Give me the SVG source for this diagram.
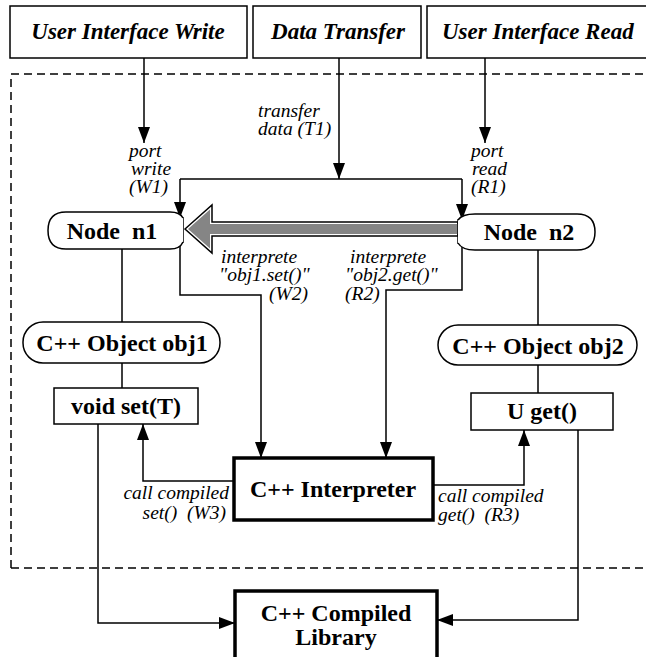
<svg xmlns="http://www.w3.org/2000/svg" width="646" height="657" viewBox="0 0 646 657">
<style>
.box{fill:#fff;stroke:#000;stroke-width:1.5}
.thick{fill:#fff;stroke:#000;stroke-width:3.5}
.ln{fill:none;stroke:#000;stroke-width:1.5}
.dash{fill:none;stroke:#000;stroke-width:1.5;stroke-dasharray:8,5}
.title{font-weight:bold;font-style:italic;font-size:23px}
.nd{font-weight:bold;font-size:24px;text-anchor:middle;white-space:pre}
.lb{font-style:italic;font-size:19.5px;white-space:pre}
</style>
<defs>
<marker id="ah" markerUnits="userSpaceOnUse" markerWidth="16" markerHeight="12" refX="16" refY="6" orient="auto">
<path d="M0,0 L16,6 L0,12 z" fill="#000"/>
</marker>
</defs>
<rect width="646" height="657" fill="#fff"/>
<g font-family="Liberation Serif, Times New Roman, serif">
<path class="dash" d="M11,568 L11,74 L650,74 M11,568 L650,568"/>

<g id="ui-write"><rect class="box" x="10" y="6" width="237" height="52"/><text class="title" x="128" y="39" text-anchor="middle">User Interface Write</text></g>
<g id="data-transfer"><rect class="box" x="253" y="6" width="168" height="52"/><text class="title" x="338" y="39" text-anchor="middle">Data Transfer</text></g>
<g id="ui-read"><rect class="box" x="427" y="6" width="230" height="52"/><text class="title" x="442" y="39">User Interface Read</text></g>

<g id="connectors">
<path class="ln" d="M144,58 L144,143" marker-end="url(#ah)"/>
<path class="ln" d="M339,58 L339,179" marker-end="url(#ah)"/>
<path class="ln" d="M485,58 L485,143" marker-end="url(#ah)"/>
<path class="ln" d="M180,179 L462,179"/>
<path class="ln" d="M180,179 L180,218" marker-end="url(#ah)"/>
<path class="ln" d="M462,179 L462,220" marker-end="url(#ah)"/>
<path class="ln" d="M180,242 L180,295 L261,295 L261,458" marker-end="url(#ah)"/>
<path class="ln" d="M462,243 L462,290 L386,290 L386,458" marker-end="url(#ah)"/>
<path class="ln" d="M122,249 L122,322 M122,363 L122,388"/>
<path class="ln" d="M538,250 L538,325 M538,365 L538,393"/>
<path class="ln" d="M234,481 L143,481 L143,424" marker-end="url(#ah)"/>
<path class="ln" d="M433,485 L524,485 L524,430" marker-end="url(#ah)"/>
<path class="ln" d="M98,424 L98,623 L235,623" marker-end="url(#ah)"/>
<path class="ln" d="M578,430 L578,620 L437,620" marker-end="url(#ah)"/>
<polygon points="185,229 212,205 212,222 458,222 458,236 212,236 212,253" fill="#fff" stroke="#000" stroke-width="1.5"/>
<polygon points="188,229 210,209.5 210,224 458,224 458,234 210,234 210,248.5" fill="#858585"/>
<text class="lb" x="258" y="117">transfer</text>
<text class="lb" x="258" y="135">data (T1)</text>
<text class="lb" x="129" y="157">port</text>
<text class="lb" x="131" y="175">write</text>
<text class="lb" x="129" y="193">(W1)</text>
<text class="lb" x="471" y="157">port</text>
<text class="lb" x="472" y="175">read</text>
<text class="lb" x="471" y="193">(R1)</text>
<text class="lb" x="221" y="263">interprete</text>
<text class="lb" x="219" y="281">"obj1.set()"</text>
<text class="lb" x="308" y="300" text-anchor="end">(W2)</text>
<text class="lb" x="350" y="263">interprete</text>
<text class="lb" x="345" y="281">"obj2.get()"</text>
<text class="lb" x="345" y="300">(R2)</text>
<text class="lb" x="229" y="499" text-anchor="end">call compiled</text>
<text class="lb" x="226" y="519" text-anchor="end">set()  (W3)</text>
<text class="lb" x="438" y="502">call compiled</text>
<text class="lb" x="438" y="521">get()  (R3)</text>
</g>

<g id="port-n1"><rect class="box" x="176" y="218" width="7" height="24"/></g>
<g id="port-n2"><rect class="box" x="458" y="220" width="7" height="23"/></g>
<g id="node-n1"><path class="box" d="M183,218 Q180,212 170,212 L66,212 Q48,212 48,230.5 Q48,249 66,249 L170,249 Q180,249 183,242"/><text class="nd" x="112" y="239">Node  n1</text></g>
<g id="node-n2"><path class="box" d="M458,220 Q462,214 475,214 L577,214 Q595,214 595,232 Q595,250 577,250 L475,250 Q462,250 458,243"/><text class="nd" x="529" y="240">Node  n2</text></g>
<g id="obj1"><rect class="box" x="23" y="322" width="197" height="41" rx="20" ry="20"/><text class="nd" x="122" y="351">C++ Object obj1</text></g>
<g id="obj2"><rect class="box" x="438" y="325" width="199" height="40" rx="20" ry="20"/><text class="nd" x="538" y="354">C++ Object obj2</text></g>
<g id="set"><rect class="box" x="54" y="388" width="144" height="36"/><text class="nd" x="126" y="414">void set(T)</text></g>
<g id="get"><rect class="box" x="471" y="393" width="142" height="37"/><text class="nd" x="542" y="419">U get()</text></g>
<g id="interpreter"><rect class="thick" x="234" y="458" width="199" height="62"/><text class="nd" x="333" y="497">C++ Interpreter</text></g>
<g id="library"><rect class="thick" x="235" y="591" width="202" height="80"/><text class="nd" x="336" y="621">C++ Compiled</text><text class="nd" x="336" y="645">Library</text></g>
</g>
</svg>
